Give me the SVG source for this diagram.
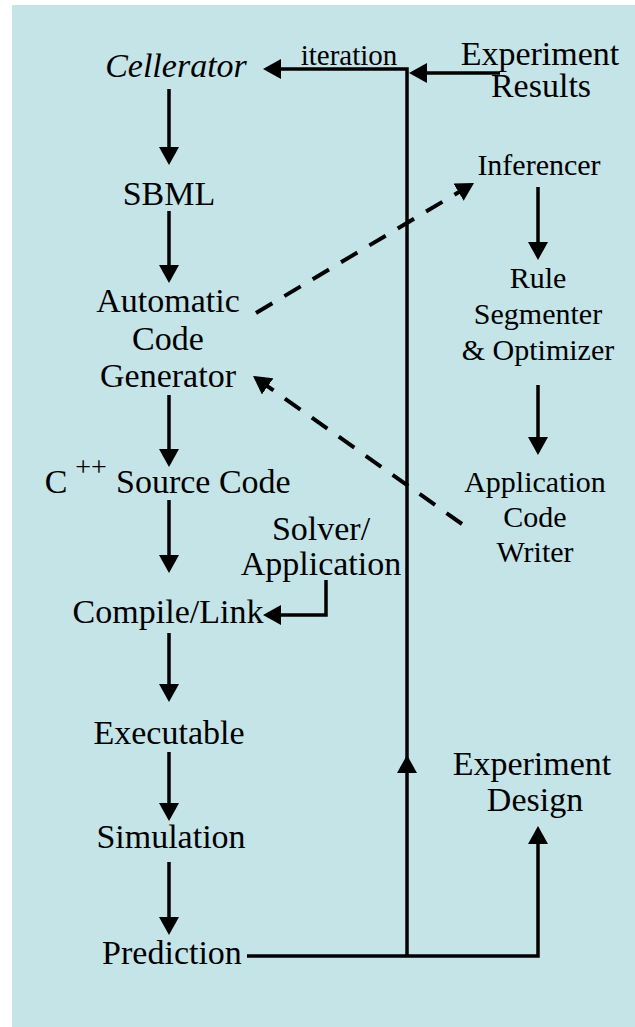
<svg xmlns="http://www.w3.org/2000/svg" width="635" height="1027" viewBox="0 0 635 1027">
<style>
text{font-family:"Liberation Serif","Times New Roman",serif;fill:#000;text-anchor:middle}
.l{font-size:34px}
.r{font-size:30px}
.it{font-size:29px}
.c{fill:none;stroke:#000;stroke-width:3.5}
.d{fill:none;stroke:#000;stroke-width:4;stroke-dasharray:19 14}
</style>
<defs>
<marker id="ah" markerUnits="userSpaceOnUse" markerWidth="18" markerHeight="20" viewBox="0 0 18 20" refX="1" refY="10" orient="auto">
<path d="M0,0 L18,10 L0,20 z" fill="#000"/>
</marker>
</defs>
<rect x="12" y="5" width="623" height="1022" fill="#C4E4E8"/>
<g id="connectors">
<path class="c" d="M169,89 V148" marker-end="url(#ah)"/>
<path class="c" d="M169,211 V266" marker-end="url(#ah)"/>
<path class="c" d="M169,395 V450" marker-end="url(#ah)"/>
<path class="c" d="M169,500 V556" marker-end="url(#ah)"/>
<path class="c" d="M169,633 V685" marker-end="url(#ah)"/>
<path class="c" d="M169,752 V804" marker-end="url(#ah)"/>
<path class="c" d="M169,862 V918" marker-end="url(#ah)"/>
<path class="c" d="M326,580 V615 H280" marker-end="url(#ah)"/>
<path class="c" d="M407,956 V772" marker-end="url(#ah)"/>
<path class="c" d="M407,760 V69 H280" marker-end="url(#ah)"/>
<path class="c" d="M500,73 H426" marker-end="url(#ah)"/>
<path class="c" d="M538,187 V243" marker-end="url(#ah)"/>
<path class="c" d="M538,385 V438" marker-end="url(#ah)"/>
<path class="c" d="M247,956 H538 V843" marker-end="url(#ah)"/>
<path class="d" d="M256,313 L459.4,191.7" marker-end="url(#ah)"/>
<path class="d" d="M462,524 L266.9,385.8" marker-end="url(#ah)"/>
</g>
<g id="cellerator"><text class="l" x="176" y="77" font-style="italic">Cellerator</text></g>
<g id="sbml"><text class="l" x="169" y="205">SBML</text></g>
<g id="acg"><text class="l" x="168" y="312">Automatic</text><text class="l" x="168" y="350">Code</text><text class="l" x="168" y="387">Generator</text></g>
<g id="cpp"><text class="l" x="56" y="493">C</text><text x="91" y="476" style="font-size:28px">++</text><text class="l" x="116" y="493" style="text-anchor:start">Source Code</text></g>
<g id="solver"><text class="l" x="321" y="540">Solver/</text><text class="l" x="321" y="575">Application</text></g>
<g id="compile"><text class="l" x="168" y="623">Compile/Link</text></g>
<g id="executable"><text class="l" x="169" y="744">Executable</text></g>
<g id="simulation"><text class="l" x="171" y="848">Simulation</text></g>
<g id="prediction"><text class="l" x="172" y="964">Prediction</text></g>
<g id="iteration"><text class="it" x="349" y="65">iteration</text></g>
<g id="results"><text class="l" x="540" y="65">Experiment</text><text class="l" x="541" y="97">Results</text></g>
<g id="inferencer"><text class="r" x="539" y="175">Inferencer</text></g>
<g id="segmenter"><text class="r" x="538" y="288">Rule</text><text class="r" x="538" y="324">Segmenter</text><text class="r" x="538" y="360">&amp; Optimizer</text></g>
<g id="writer"><text class="r" x="535" y="492">Application</text><text class="r" x="535" y="527">Code</text><text class="r" x="535" y="562">Writer</text></g>
<g id="design"><text class="l" x="532" y="775">Experiment</text><text class="l" x="535" y="811">Design</text></g>
</svg>
